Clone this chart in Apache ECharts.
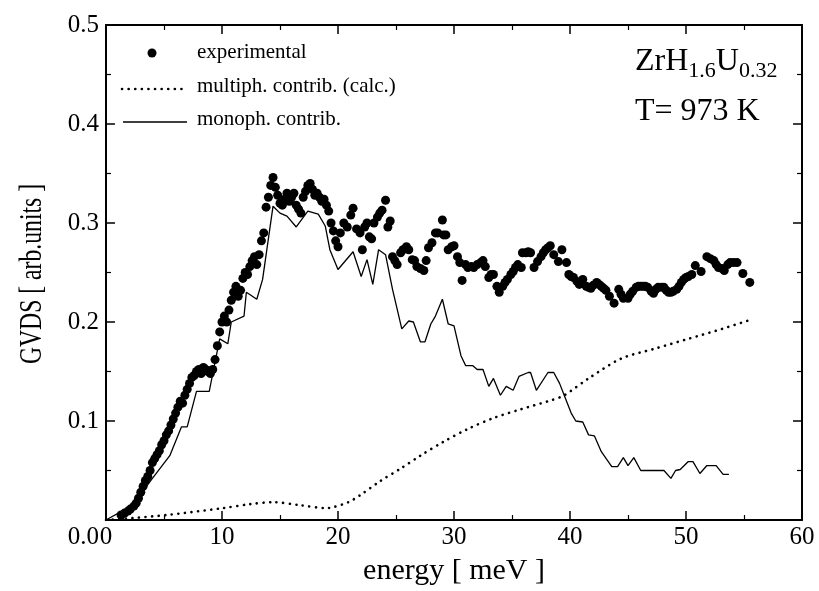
<!DOCTYPE html>
<html>
<head>
<meta charset="utf-8">
<script src="https://cdn.jsdelivr.net/npm/echarts@6/dist/echarts.min.js"></script>
<style>
html,body{margin:0;padding:0;background:#fff;}
#chart{width:819px;height:591px;}
</style>
</head>
<body>
<div id="chart"></div>
<script>
// ---- data (energy in meV, GVDS in arb. units) ----
const expEnergy = [1.3,1.6,1.9,2.1,2.4,2.6,2.8,3.0,3.2,3.4,3.6,3.8,4.0,4.2,4.4,4.6,4.8,5.0,5.2,5.4,5.6,5.8,6.0,6.2,6.4,6.6,6.8,7.0,7.2,7.4,7.6,7.8,8.0,8.2,8.4,8.6,8.8,9.0,9.2,9.4,9.6,9.8,10.0,10.2,10.4,10.6,10.8,11.0,11.2,11.4,11.6,11.8,12.0,12.2,12.4,12.6,12.8,13.0,13.2,13.4,13.6,13.8,14.0,14.2,14.4,14.6,14.8,15.0,15.2,15.4,15.6,15.8,16.0,16.2,16.4,16.6,16.8,17.0,17.2,17.4,17.6,17.8,18.0,18.2,18.4,18.6,18.8,19.0,19.2,19.4,19.6,19.8,20.0,20.2,20.5,20.8,21.1,21.3,21.6,21.9,22.1,22.3,22.5,22.7,22.9,23.1,23.4,23.6,23.8,24.1,24.3,24.5,24.7,24.9,25.1,25.4,25.6,25.9,26.1,26.4,26.6,26.8,27.1,27.4,27.6,27.8,28.1,28.4,28.6,29.0,29.1,29.3,29.5,29.8,30.0,30.3,30.5,30.7,31.0,31.2,31.5,31.7,32.0,32.3,32.5,32.7,33.0,33.2,33.4,33.7,33.9,34.2,34.4,34.6,34.9,35.1,35.3,35.5,35.8,35.9,36.2,36.4,36.6,36.9,37.2,37.5,37.7,37.9,38.1,38.3,38.6,39.0,39.3,39.7,39.9,40.1,40.3,40.6,40.8,41.1,41.4,41.6,41.8,42.0,42.3,42.5,42.7,42.9,43.1,43.4,43.8,44.2,44.4,44.6,45.0,45.2,45.4,45.7,45.9,46.1,46.3,46.5,46.7,47.0,47.2,47.4,47.6,47.9,48.1,48.3,48.5,48.7,48.9,49.2,49.4,49.6,49.8,50.0,50.2,50.5,50.8,51.3,51.8,52.1,52.4,52.6,52.8,53.1,53.3,53.6,53.8,54.1,54.4,54.9,55.5];
const expGVDS = [0.005,0.007,0.009,0.011,0.014,0.017,0.022,0.028,0.034,0.040,0.044,0.050,0.058,0.062,0.066,0.070,0.076,0.080,0.086,0.090,0.096,0.102,0.108,0.114,0.120,0.118,0.126,0.132,0.138,0.144,0.146,0.150,0.152,0.148,0.154,0.152,0.150,0.148,0.152,0.162,0.176,0.190,0.200,0.206,0.200,0.212,0.222,0.230,0.236,0.226,0.232,0.244,0.250,0.248,0.256,0.262,0.266,0.258,0.268,0.282,0.290,0.316,0.326,0.338,0.346,0.336,0.328,0.320,0.318,0.324,0.330,0.322,0.326,0.330,0.318,0.314,0.310,0.326,0.332,0.338,0.340,0.334,0.328,0.330,0.326,0.322,0.324,0.318,0.312,0.300,0.292,0.282,0.276,0.290,0.300,0.296,0.308,0.315,0.294,0.290,0.273,0.296,0.300,0.286,0.284,0.300,0.306,0.310,0.313,0.323,0.296,0.302,0.266,0.262,0.258,0.270,0.273,0.276,0.273,0.263,0.262,0.256,0.254,0.252,0.262,0.275,0.280,0.290,0.290,0.303,0.288,0.288,0.273,0.276,0.277,0.266,0.260,0.242,0.258,0.255,0.256,0.255,0.258,0.260,0.262,0.256,0.245,0.248,0.248,0.236,0.230,0.236,0.240,0.243,0.248,0.251,0.255,0.258,0.255,0.270,0.270,0.271,0.270,0.255,0.261,0.266,0.270,0.273,0.275,0.277,0.268,0.261,0.273,0.260,0.248,0.246,0.245,0.241,0.238,0.243,0.236,0.235,0.234,0.237,0.240,0.238,0.236,0.234,0.232,0.226,0.219,0.233,0.228,0.224,0.224,0.228,0.231,0.235,0.236,0.236,0.236,0.236,0.235,0.231,0.229,0.233,0.235,0.235,0.235,0.232,0.230,0.230,0.231,0.233,0.236,0.240,0.243,0.245,0.246,0.248,0.257,0.251,0.266,0.264,0.262,0.258,0.255,0.254,0.252,0.258,0.260,0.260,0.260,0.249,0.240];

const monoEnergy = [0,2.3,4.0,5.5,6.5,7.0,7.8,8.9,9.8,10.5,10.8,11.9,12.1,13.0,13.5,14.4,15.0,15.6,16.4,17.4,18.3,18.9,19.3,20.0,21.3,22.0,22.5,23.0,23.5,24.1,24.7,25.5,26.1,26.5,27.1,27.5,28.0,28.4,29.0,29.5,30.0,30.6,31.0,31.6,32.0,32.5,33.0,33.4,34.0,34.5,35.1,35.6,36.4,36.6,37.1,38.1,38.6,39.1,39.5,40.1,40.5,41.1,41.6,42.1,42.7,43.6,44.1,44.6,45.0,45.5,46.1,48.1,48.7,49.1,49.5,50.2,50.6,51.2,51.8,52.6,53.2,53.7];
const monoGVDS = [0,0.015,0.042,0.065,0.094,0.094,0.130,0.130,0.183,0.178,0.200,0.206,0.230,0.223,0.243,0.317,0.310,0.307,0.296,0.312,0.309,0.297,0.273,0.253,0.271,0.246,0.263,0.238,0.273,0.268,0.233,0.193,0.201,0.200,0.180,0.180,0.198,0.206,0.223,0.198,0.196,0.166,0.156,0.156,0.152,0.152,0.135,0.143,0.126,0.135,0.131,0.145,0.149,0.149,0.131,0.149,0.149,0.138,0.126,0.108,0.100,0.099,0.086,0.085,0.069,0.054,0.054,0.063,0.055,0.063,0.050,0.050,0.042,0.050,0.051,0.059,0.059,0.047,0.055,0.055,0.046,0.046];

const multiEnergy = [0,2.3,5.2,10.1,12.4,14.4,16.7,19.0,19.6,20.9,21.9,23.6,25.4,27.1,29.1,31.2,33.4,35.8,38.4,39.5,41.6,44.4,47.3,50.2,53.1,55.5];
const multiGVDS = [0,0.002,0.005,0.012,0.016,0.018,0.015,0.012,0.013,0.018,0.025,0.039,0.052,0.065,0.079,0.092,0.103,0.112,0.121,0.126,0.143,0.163,0.173,0.183,0.193,0.202];

const xTicks = [0,10,20,30,40,50,60];
const yTicks = [0,0.1,0.2,0.3,0.4,0.5];

const zip = (a,b) => a.map((v,i)=>[v,b[i]]);
const FONT = '"Liberation Serif", "Times New Roman", serif';

const chart = echarts.init(document.getElementById('chart'), null, {renderer:'canvas'});

const axisCommon = {
  axisLine:{show:true, onZero:false, lineStyle:{color:'#000', width:2}},
  axisTick:{show:true, inside:true, length:9, lineStyle:{color:'#000', width:1.5}},
  minorTick:{show:true, splitNumber:2, length:5, lineStyle:{color:'#000', width:1.2}},
  splitLine:{show:false}
};

chart.setOption({
  animation:false,
  backgroundColor:'#fff',
  grid:{left:106, right:17, top:25, bottom:68, containLabel:false},
  xAxis:[
    Object.assign({}, axisCommon, {
      type:'value', min:xTicks[0], max:xTicks[xTicks.length-1], interval:10,
      position:'bottom',
      name:'energy [ meV ]', nameLocation:'middle', nameGap:36,
      nameTextStyle:{fontFamily:FONT, fontSize:30, color:'#000'},
      axisLabel:{fontFamily:FONT, fontSize:25, color:'#000', margin:5}
    }),
    Object.assign({}, axisCommon, {
      type:'value', min:xTicks[0], max:xTicks[xTicks.length-1], interval:10,
      position:'top', axisLabel:{show:false}
    })
  ],
  yAxis:[
    Object.assign({}, axisCommon, {
      type:'value', min:yTicks[0], max:yTicks[yTicks.length-1], interval:0.1,
      position:'left',
      axisLabel:{fontFamily:FONT, fontSize:25, color:'#000', margin:7,
        formatter:v => v === 0 ? '{z|0.0}' : v.toFixed(1),
        rich:{z:{fontFamily:FONT, fontSize:25, color:'#000', padding:[34,0,0,0]}}}
    }),
    Object.assign({}, axisCommon, {
      type:'value', min:yTicks[0], max:yTicks[yTicks.length-1], interval:0.1,
      position:'right', axisLabel:{show:false}
    })
  ],
  series:[
    {
      name:'multiph. contrib. (calc.)', type:'line', xAxisIndex:0, yAxisIndex:0,
      data:zip(multiEnergy, multiGVDS), showSymbol:false, smooth:0.3,
      lineStyle:{color:'#000', width:2.6, type:[0.1,6.5], cap:'round'}, z:2
    },
    {
      name:'monoph. contrib.', type:'line', xAxisIndex:0, yAxisIndex:0,
      data:zip(monoEnergy, monoGVDS), showSymbol:false,
      lineStyle:{color:'#000', width:1.3}, z:3
    },
    {
      name:'experimental', type:'scatter', xAxisIndex:0, yAxisIndex:0,
      data:zip(expEnergy, expGVDS), symbol:'circle', symbolSize:9,
      itemStyle:{color:'#000', opacity:1}, z:4
    }
  ],
  graphic:[
    {type:'text', x:33, y:274, rotation:Math.PI/2, scaleX:0.74,
      style:{text:'GVDS [ arb.units ]', font:'32px '+FONT, fill:'#000', textAlign:'center', textVerticalAlign:'middle'}},
    {type:'circle', shape:{cx:152, cy:53, r:4.5}, style:{fill:'#000'}},
    {type:'text', x:197, y:52, style:{text:'experimental', font:'21px '+FONT, fill:'#000', textVerticalAlign:'middle'}},
    {type:'line', shape:{x1:122, y1:89, x2:186, y2:89}, style:{stroke:'#000', lineWidth:2.6, lineDash:[0.1,6.5], lineCap:'round'}},
    {type:'text', x:197, y:86, style:{text:'multiph. contrib. (calc.)', font:'21px '+FONT, fill:'#000', textVerticalAlign:'middle'}},
    {type:'line', shape:{x1:123, y1:122, x2:187, y2:122}, style:{stroke:'#000', lineWidth:1.3}},
    {type:'text', x:197, y:119, style:{text:'monoph. contrib.', font:'21px '+FONT, fill:'#000', textVerticalAlign:'middle'}},
    {type:'text', x:635, y:62, style:{
      text:'{m|ZrH}{s|1.6}{m|U}{s|0.32}',
      rich:{m:{fontFamily:FONT, fontSize:32, fill:'#000'}, s:{fontFamily:FONT, fontSize:22, fill:'#000', padding:[18,0,0,0]}},
      textVerticalAlign:'middle'}},
    {type:'text', x:635, y:112, style:{text:'T= 973 K', font:'32px '+FONT, fill:'#000', textVerticalAlign:'middle'}}
  ]
});
</script>
</body>
</html>
